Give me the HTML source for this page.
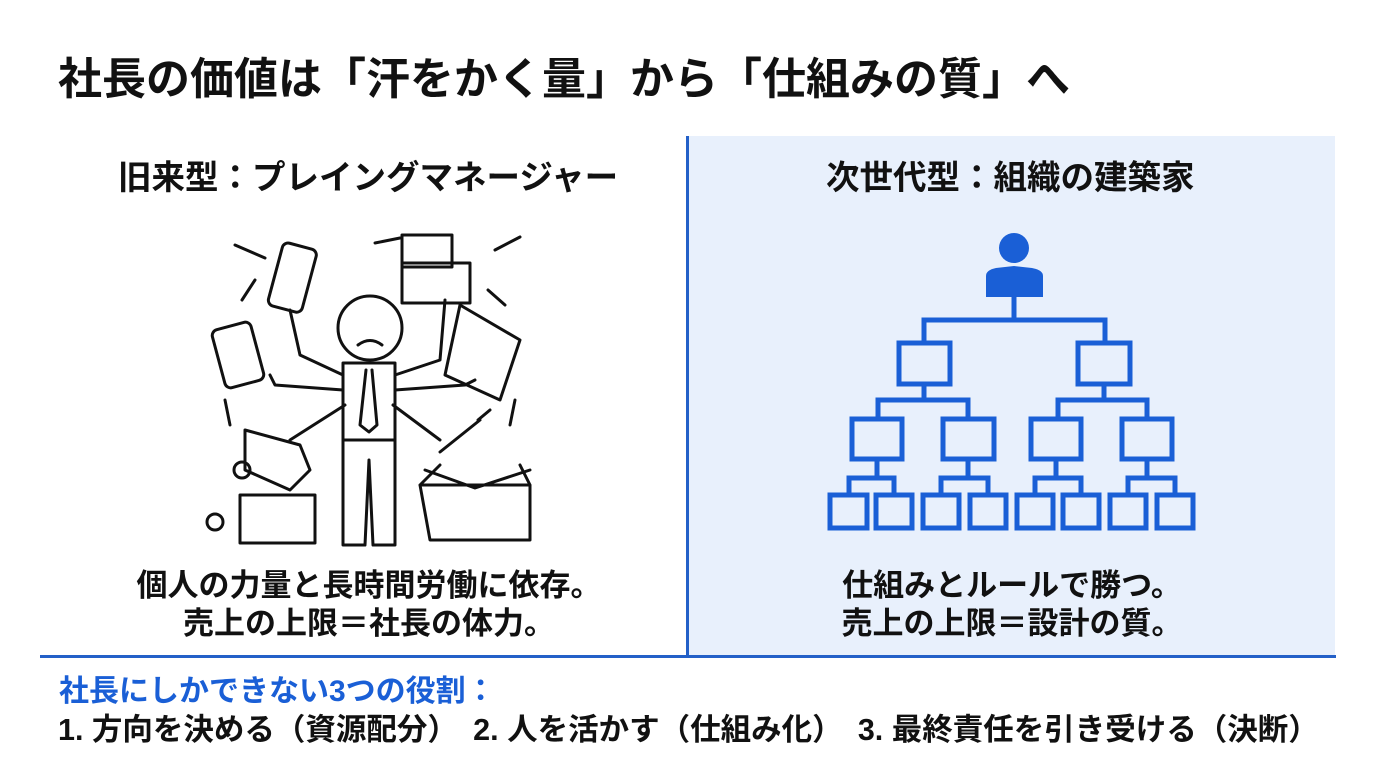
<!DOCTYPE html>
<html><head><meta charset="utf-8"><style>
body{margin:0;width:1376px;height:768px;background:#fff;position:relative;overflow:hidden;font-family:"Liberation Sans","Noto Sans CJK JP",sans-serif;font-weight:bold;color:#111}
.t{position:absolute;white-space:nowrap;line-height:1}
</style></head><body>
<div style="position:absolute;left:689px;top:136px;width:646px;height:519px;background:#e8f0fc"></div>
<div style="position:absolute;left:686px;top:136px;width:3px;height:520px;background:#2360c8"></div>
<div style="position:absolute;left:40px;top:655px;width:1296px;height:3px;background:#2360c8"></div>
<div class="t" style="left:58px;top:58px;font-size:44px">社長の価値は「汗をかく量」から「仕組みの質」へ</div>
<div class="t" style="left:118px;top:162px;font-size:33.5px">旧来型：プレイングマネージャー</div>
<div class="t" style="left:826px;top:162px;font-size:33.5px">次世代型：組織の建築家</div>
<div class="t" style="left:0;width:738px;text-align:center;top:567px;font-size:31px;line-height:38px">個人の力量と長時間労働に依存。<br>売上の上限＝社長の体力。</div>
<div class="t" style="left:688px;width:648px;text-align:center;top:567px;font-size:31px;line-height:38px">仕組みとルールで勝つ。<br>売上の上限＝設計の質。</div>
<div class="t" style="left:59px;top:677px;font-size:30px;color:#1a5fd6">社長にしかできない3つの役割：</div>
<div class="t" style="left:58px;top:715px;font-size:30.5px">1. 方向を決める（資源配分）　2. 人を活かす（仕組み化）　3. 最終責任を引き受ける（決断）</div>
<svg width="1376" height="768" style="position:absolute;left:0;top:0">
<g fill="none" stroke="#1a5fd6" stroke-width="5">
<path d="M1014 297V320M924 343V320H1105V343M924 384V400M1104 384V400M878 419V400H968V419M1058 419V400H1147V419"/>
<rect x="899" y="343" width="51" height="41"/><rect x="1078" y="343" width="52" height="41"/>
<rect x="852" y="419" width="50" height="40"/><rect x="943" y="419" width="51" height="40"/><rect x="1031" y="419" width="50" height="40"/><rect x="1122" y="419" width="50" height="40"/>
<path d="M877 459V478M968 459V478M1056 459V478M1147 459V478M849 495V478H894V495M941 495V478H988V495M1035 495V478H1081V495M1128 495V478H1175V495"/>
<rect x="830" y="495" width="37" height="33"/><rect x="876" y="495" width="36" height="33"/><rect x="923" y="495" width="36" height="33"/><rect x="970" y="495" width="36" height="33"/><rect x="1017" y="495" width="36" height="33"/><rect x="1063" y="495" width="36" height="33"/><rect x="1110" y="495" width="36" height="33"/><rect x="1157" y="495" width="36" height="33"/>
</g>
<g fill="#1a5fd6"><circle cx="1014" cy="248" r="15"/><path d="M986 297V276Q986 270 996 268L1014 266L1032 268Q1043 270 1043 276V297Z"/></g>
<g fill="none" stroke="#111" stroke-width="3" stroke-linejoin="round" stroke-linecap="round">
<circle cx="370" cy="328" r="32"/>
<path d="M358 345Q370 336 382 345"/>
<path d="M343 363H395V440H343Z"/>
<path d="M343 440L343 545H365L369 460L373 545H395V440"/>
<path d="M366 370L360 425L369 432L377 425L372 370"/>
<path d="M343 375L300 355L290 310M343 390L275 385L270 375M395 375L440 360L445 300M395 390L465 385L475 380M345 405L290 440M393 405L440 440"/>
<rect x="275" y="245" width="35" height="65" rx="6" transform="rotate(15 292 277)"/>
<rect x="218" y="325" width="40" height="60" rx="6" transform="rotate(-15 238 355)"/>
<rect x="402" y="235" width="50" height="32"/><rect x="402" y="263" width="68" height="40"/>
<path d="M460 305L520 340L500 400L445 375Z"/>
<path d="M245 430L300 445L310 470L290 490L245 470Z"/>
<rect x="240" y="495" width="75" height="48"/>
<path d="M420 485L530 485L530 540L430 540ZM420 485L440 465M530 485L520 465M425 470L475 488L530 470"/>
<path d="M440 452L480 420M478 420L490 410"/>
<path d="M235 245L265 258M375 243L400 238M520 237L495 250M488 290L505 305M515 400L510 425M230 425L225 400M242 300L255 280"/>
<circle cx="242" cy="470" r="8"/><circle cx="215" cy="522" r="8"/>
</g>
</svg>
</body></html>
